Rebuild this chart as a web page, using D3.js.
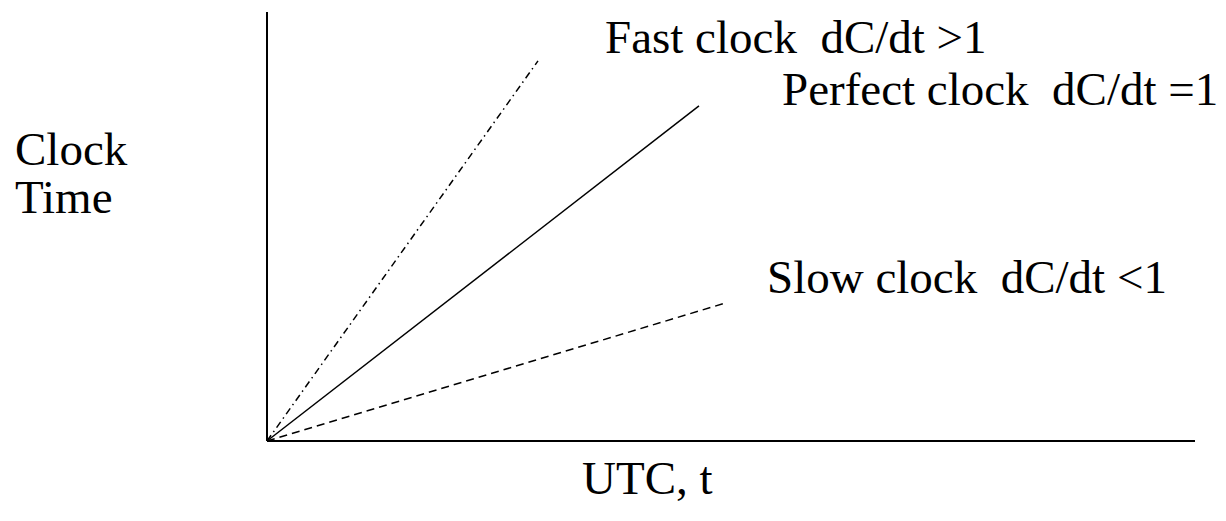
<!DOCTYPE html>
<html><head><meta charset="utf-8">
<script src="https://cdn.jsdelivr.net/npm/d3@7"></script>
<style>html,body{margin:0;padding:0;background:#fff;}svg{display:block;}</style>
</head><body>
<svg id="c" width="1226" height="521"></svg>
<script>
// Data (UTC t, clock time C) in normalized units
const seriesNames = ["Fast clock", "Perfect clock", "Slow clock"];
const fastPoints = [[0, 0], [0.292, 0.886]];
const perfectPoints = [[0, 0], [0.4655, 0.781]];
const slowPoints = [[0, 0], [0.4946, 0.322]];
const seriesLabels = ["Fast clock  dC/dt >1", "Perfect clock  dC/dt =1", "Slow clock  dC/dt <1"];
const yAxisLabel = ["Clock", "Time"];
const xAxisLabel = "UTC, t";

const svg = d3.select("#c");
const x = d3.scaleLinear().domain([0, 1]).range([267, 1195]);
const y = d3.scaleLinear().domain([0, 1]).range([441, 12]);
const font = "'Liberation Serif','Times New Roman',serif";

// axes
svg.append("line").attr("x1", x(0)).attr("x2", x(0)).attr("y1", y(0)).attr("y2", y(1))
  .attr("stroke", "#000").attr("stroke-width", 2);
svg.append("line").attr("x1", x(0)).attr("x2", x(1)).attr("y1", y(0)).attr("y2", y(0))
  .attr("stroke", "#000").attr("stroke-width", 2);

const line = d3.line().x(d => x(d[0])).y(d => y(d[1]));
const series = [
  {pts: fastPoints, dash: "7,4,1.5,4"},
  {pts: perfectPoints, dash: null},
  {pts: slowPoints, dash: "8,5"}
];
series.forEach(s => {
  svg.append("path").attr("d", line(s.pts)).attr("fill", "none")
    .attr("stroke", "#000").attr("stroke-width", 1.5)
    .attr("stroke-dasharray", s.dash);
});

const labelPos = [[605, 53], [782, 105], [767, 293]];
seriesLabels.forEach((t, i) => {
  svg.append("text").attr("x", labelPos[i][0]).attr("y", labelPos[i][1])
    .attr("font-family", font).attr("font-size", 47).attr("fill", "#000")
    .style("white-space", "pre").attr("xml:space", "preserve").text(t);
});
svg.append("text").attr("x", 15).attr("y", 165).attr("font-family", font).attr("font-size", 47).text(yAxisLabel[0]);
svg.append("text").attr("x", 15).attr("y", 213).attr("font-family", font).attr("font-size", 47).text(yAxisLabel[1]);
svg.append("text").attr("x", 582).attr("y", 494).attr("font-family", font).attr("font-size", 47).text(xAxisLabel);
</script>
</body></html>
